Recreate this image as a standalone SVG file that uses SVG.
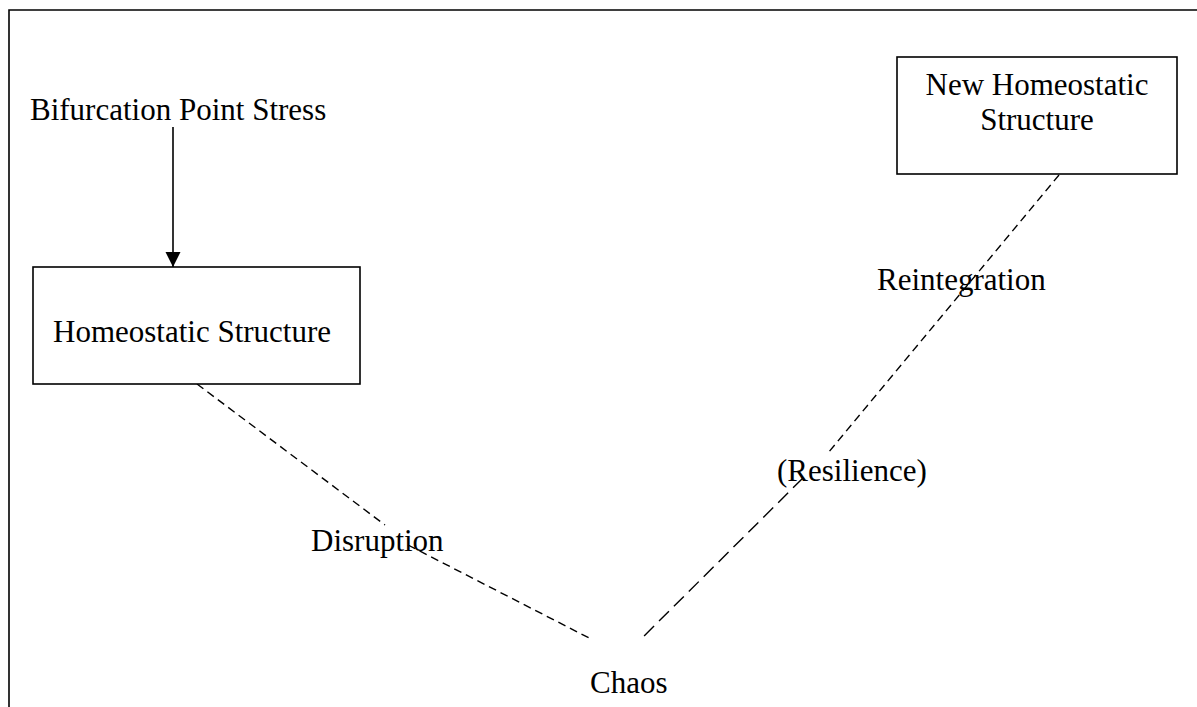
<svg xmlns="http://www.w3.org/2000/svg" width="1197" height="707" viewBox="0 0 1197 707">
  <style>
    .lbl { font-family: "Liberation Serif", "Times New Roman", serif; font-size: 31px; fill: #000; }
    .box { fill: #fff; stroke: #000; stroke-width: 1.6; }
    .frame { fill: none; stroke: #000; stroke-width: 1.6; }
    .dash { fill: none; stroke: #000; stroke-width: 1.4; stroke-dasharray: 8 5; }
    .dash-long { fill: none; stroke: #000; stroke-width: 1.4; stroke-dasharray: 14 7; }
    .solid { fill: none; stroke: #000; stroke-width: 1.6; }
  </style>
  <defs>
    <marker id="arrow" markerUnits="userSpaceOnUse" markerWidth="17" markerHeight="17" refX="15" refY="7.5" orient="auto">
      <path d="M0,0 L15,7.5 L0,15 Z" fill="#000"/>
    </marker>
  </defs>

  <rect width="1197" height="707" fill="#fff"/>

  <!-- page frame: left and top edges -->
  <path class="frame" d="M9,707 L9,10 L1197,10"/>

  <g id="connectors">
    <line class="solid" x1="173" y1="127" x2="173" y2="267" marker-end="url(#arrow)"/>
    <line class="dash" x1="197" y1="384" x2="385" y2="525"/>
    <line class="dash" x1="408" y1="545" x2="593" y2="640"/>
    <line class="dash" x1="1059" y1="175" x2="828" y2="453"/>
    <line class="dash-long" x1="803" y1="478" x2="640" y2="640"/>
  </g>

  <g id="stress">
    <text class="lbl" x="30" y="120">Bifurcation Point Stress</text>
  </g>

  <g id="homeostatic">
    <rect class="box" x="33" y="267" width="327" height="117"/>
    <text class="lbl" x="53" y="342">Homeostatic Structure</text>
  </g>

  <g id="new-homeostatic">
    <rect class="box" x="897" y="57" width="280" height="117"/>
    <text class="lbl" x="1037" y="95" text-anchor="middle">New Homeostatic</text>
    <text class="lbl" x="1037" y="130" text-anchor="middle">Structure</text>
  </g>

  <g id="disruption">
    <text class="lbl" x="311" y="551">Disruption</text>
  </g>

  <g id="chaos">
    <text class="lbl" x="590" y="693">Chaos</text>
  </g>

  <g id="resilience">
    <text class="lbl" x="777" y="481">(Resilience)</text>
  </g>

  <g id="reintegration">
    <text class="lbl" x="877" y="290">Reintegration</text>
  </g>
</svg>
